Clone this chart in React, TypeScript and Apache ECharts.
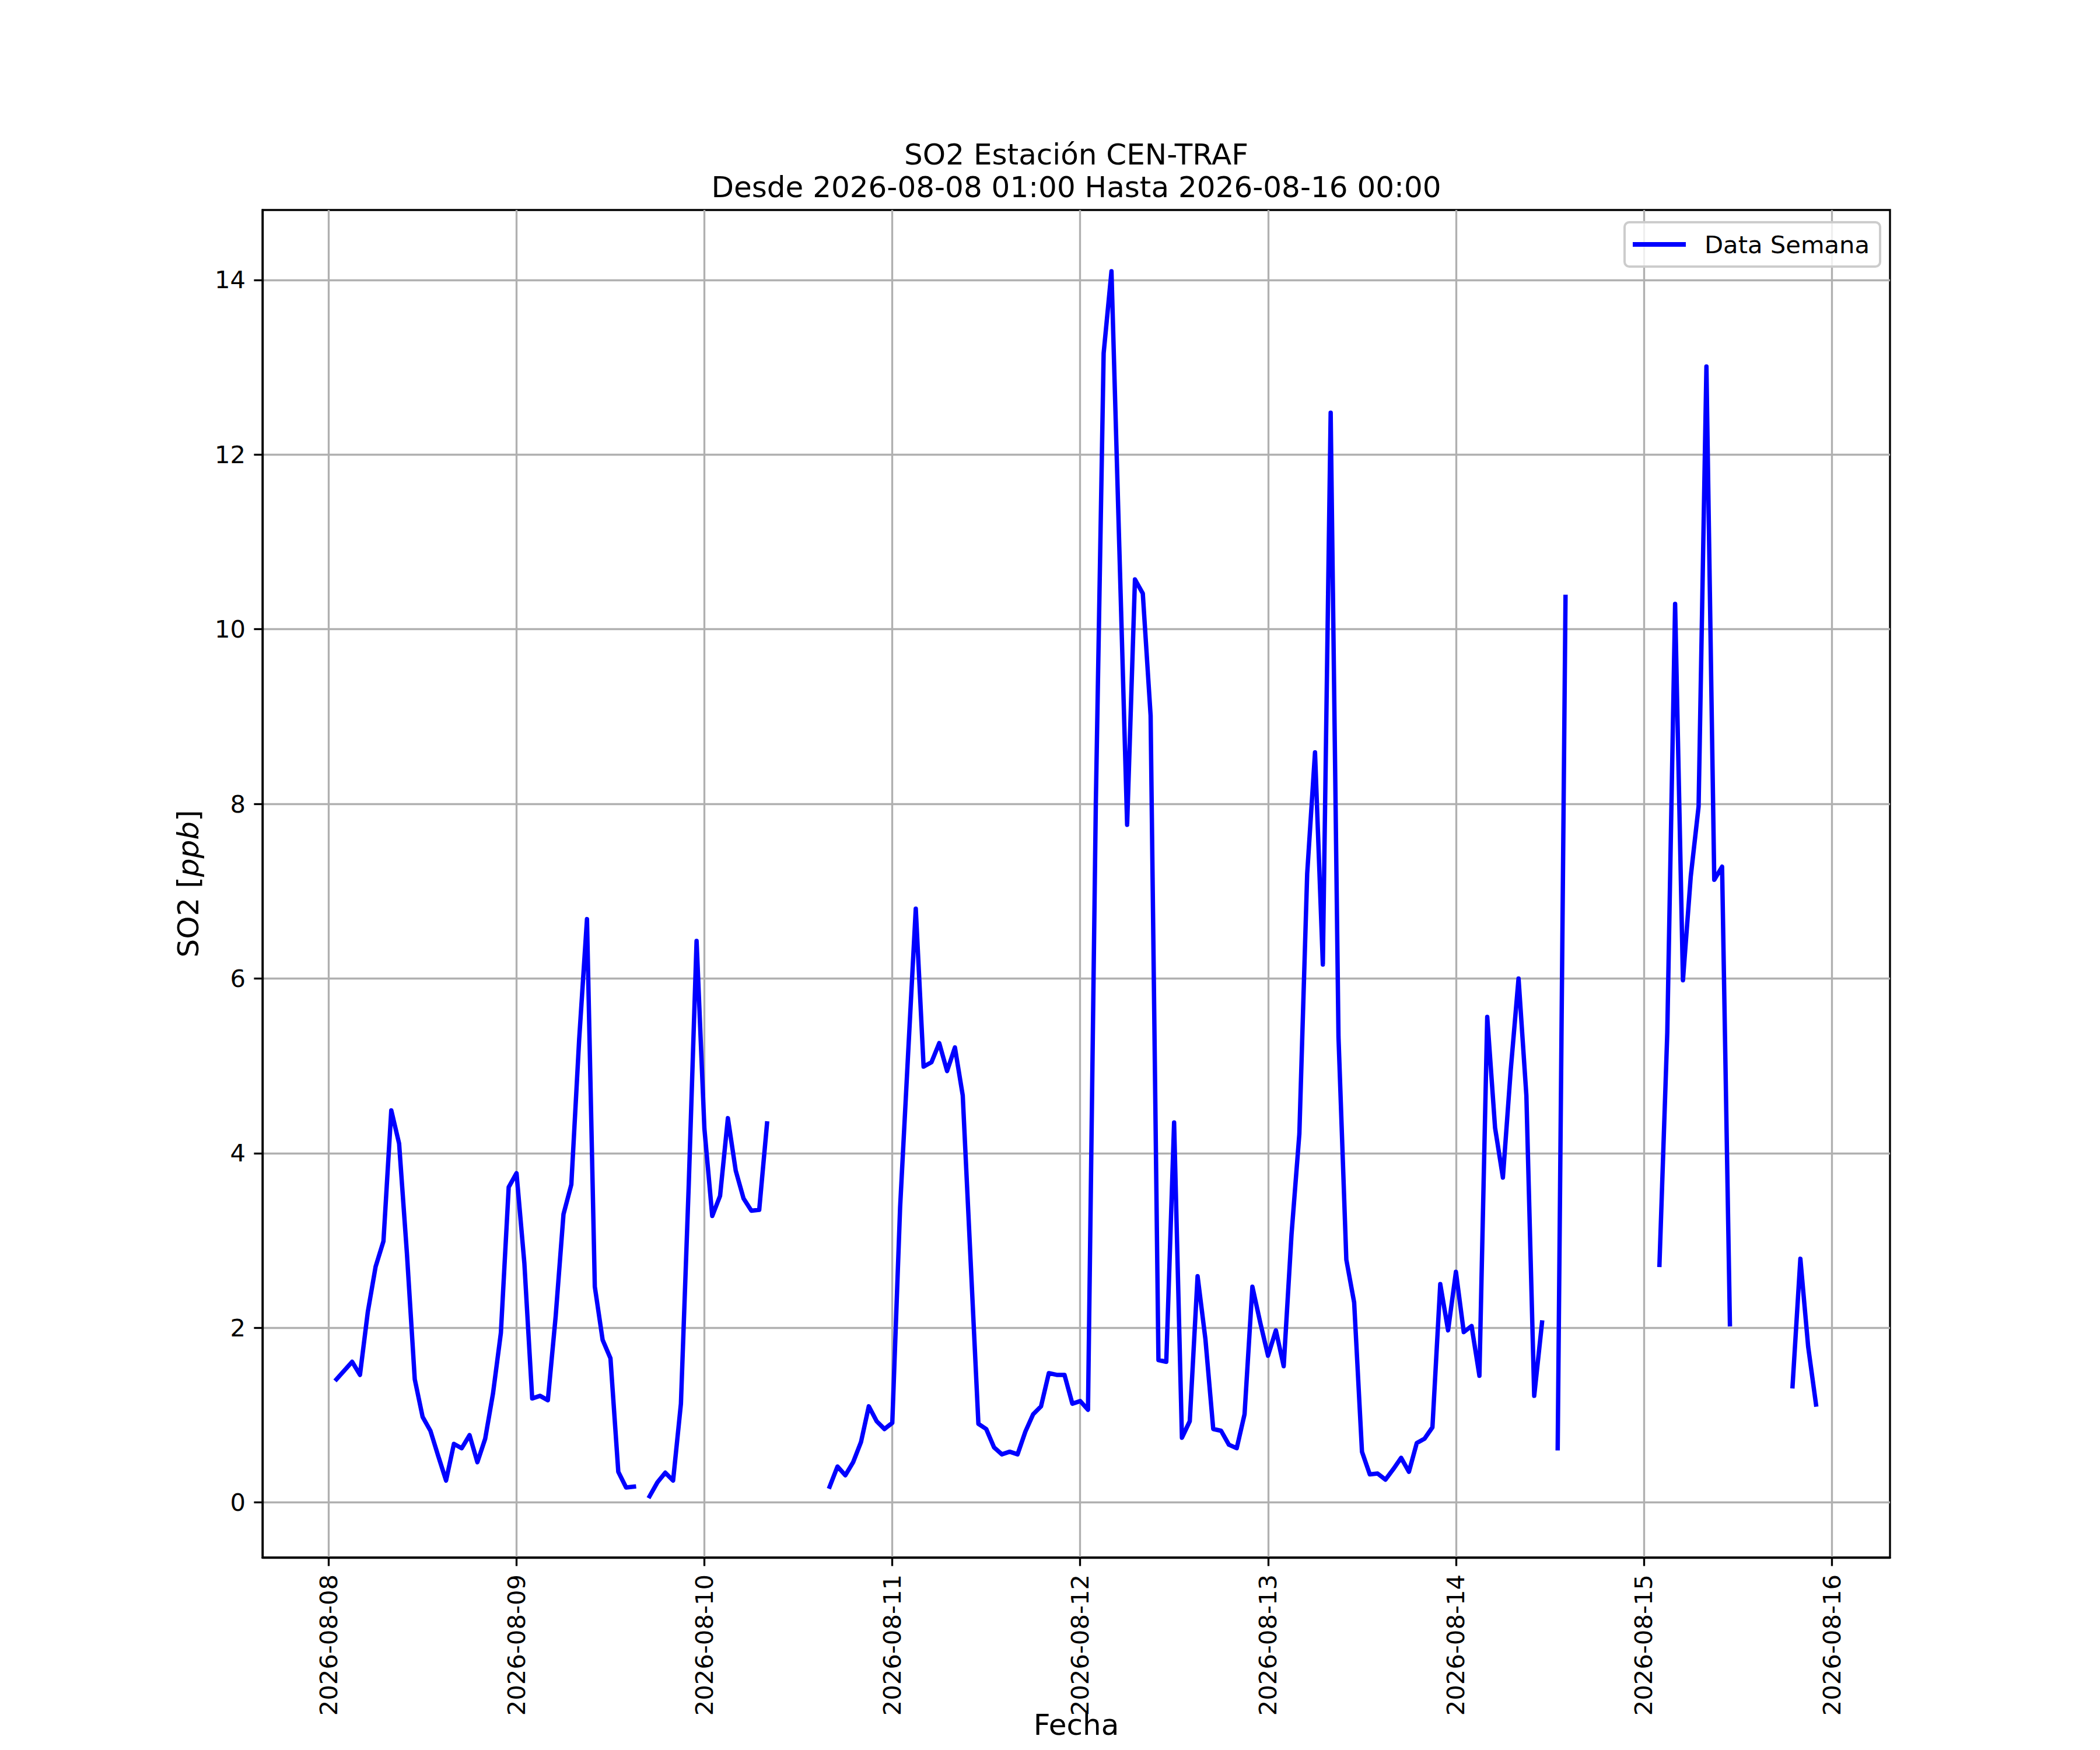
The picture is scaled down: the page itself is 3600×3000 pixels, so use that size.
import React, { useEffect, useRef } from "react";
import * as echarts from "echarts";

// Hours are counted from 2026-08-08 00:00; each day array holds hours 00..23 of that date.
const dayLabels = [
  "2026-08-08", "2026-08-09", "2026-08-10", "2026-08-11", "2026-08-12",
  "2026-08-13", "2026-08-14", "2026-08-15", "2026-08-16",
];
const yTicks = [0, 2, 4, 6, 8, 10, 12, 14];

const d08 = [null, 1.41, 1.51, 1.61, 1.46, 2.18, 2.70, 2.99, 4.49, 4.11, 2.85, 1.41, 0.98, 0.82, 0.53, 0.25, 0.67, 0.62, 0.77, 0.46, 0.73, 1.25, 1.94, 3.61];
const d09 = [3.77, 2.74, 1.19, 1.22, 1.17, 2.13, 3.30, 3.64, 5.30, 6.68, 2.47, 1.86, 1.65, 0.35, 0.17, 0.18, null, 0.07, 0.23, 0.34, 0.25, 1.13, 3.64, 6.43];
const d10 = [4.28, 3.28, 3.51, 4.40, 3.80, 3.48, 3.34, 3.35, 4.34, null, null, null, null, null, null, null, 0.18, 0.41, 0.31, 0.46, 0.69, 1.10, 0.93, 0.84];
const d11 = [0.91, 3.38, 5.10, 6.80, 4.99, 5.04, 5.26, 4.94, 5.21, 4.66, 2.78, 0.90, 0.84, 0.63, 0.55, 0.58, 0.55, 0.81, 1.01, 1.10, 1.48, 1.46, 1.46, 1.13];
const d12 = [1.16, 1.06, 8.00, 13.16, 14.10, 10.94, 7.76, 10.57, 10.41, 9.01, 1.63, 1.61, 4.35, 0.74, 0.93, 2.59, 1.87, 0.84, 0.82, 0.66, 0.62, 1.01, 2.47, 2.06];
const d13 = [1.68, 1.97, 1.56, 3.07, 4.22, 7.20, 8.59, 6.16, 12.48, 5.33, 2.78, 2.29, 0.58, 0.32, 0.33, 0.26, 0.38, 0.51, 0.35, 0.68, 0.73, 0.86, 2.50, 1.97];
const d14 = [2.64, 1.95, 2.02, 1.45, 5.56, 4.29, 3.72, 4.95, 6.00, 4.66, 1.22, 2.06, null, 0.62, 10.37, null, null, null, null, null, null, null, null, null];
const d15 = [null, null, 2.72, 5.38, 10.29, 5.98, 7.17, 7.97, 13.01, 7.13, 7.28, 2.04, null, null, null, null, null, null, null, 1.33, 2.79, 1.78, 1.12, null];

const dayArrays = [d08, d09, d10, d11, d12, d13, d14, d15];

const TITLE_LINE1 = "SO2 Estación CEN-TRAF";
const TITLE_LINE2 = "Desde 2026-08-08 01:00 Hasta 2026-08-16 00:00";
const SERIES_NAME = "Data Semana";
const X_NAME = "Fecha";

const FONT = "DejaVu Sans";

export default function App() {
  const ref = useRef<HTMLDivElement>(null);

  useEffect(() => {
    document.body.style.margin = "0";
    if (!ref.current) return;
    const chart = echarts.init(ref.current, null, { renderer: "svg" });

    const points: any[] = [];
    dayArrays.forEach((arr, d) => {
      arr.forEach((v, i) => {
        points.push([d * 24 + i, v == null ? "-" : v]);
      });
    });
    const valid = points.filter((p) => typeof p[1] === "number");
    const xs = valid.map((p) => p[0]);
    const ys = valid.map((p) => p[1]);
    const x0 = Math.min(...xs), x1 = Math.max(...xs);
    const y0 = Math.min(...ys), y1 = Math.max(...ys);
    const xm = (x1 - x0) * 0.05, ym = (y1 - y0) * 0.05;
    const dayTicks = dayLabels.map((_, i) => i * 24);

    const lw = 3.33;

    chart.setOption({
      animation: false,
      textStyle: { fontFamily: FONT },
      title: {
        text: TITLE_LINE1 + "\n" + TITLE_LINE2,
        left: 1845,
        top: 237,
        textAlign: "center",
        padding: 0,
        textStyle: { fontFamily: FONT, fontSize: 50, fontWeight: "normal", color: "#000", lineHeight: 56 },
      },
      legend: {
        data: [SERIES_NAME],
        left: 2785,
        top: 381,
        orient: "horizontal",
        icon: "rect",
        itemWidth: 91,
        itemHeight: 8,
        padding: [14, 18, 14, 14],
        backgroundColor: "rgba(255,255,255,0.8)",
        borderColor: "#cccccc",
        borderWidth: 4,
        borderRadius: 8,
        itemStyle: { color: "#0000ff", borderWidth: 0 },
        textStyle: { fontFamily: FONT, fontSize: 41.7, color: "#000", lineHeight: 48, padding: [0, 0, 0, 27] },
      },
      grid: {
        left: 450,
        top: 360,
        width: 2790,
        height: 2310,
        show: true,
        borderColor: "#000",
        borderWidth: lw,
        backgroundColor: "transparent",
        containLabel: false,
        outerBoundsMode: "none",
      },
      xAxis: {
        type: "value",
        min: x0 - xm,
        max: x1 + xm,
        name: X_NAME,
        nameLocation: "middle",
        nameGap: 262,
        nameMoveOverlap: false,
        nameTextStyle: { fontFamily: FONT, fontSize: 50, color: "#000", lineHeight: 50 },
        axisLine: { show: true, onZero: false, lineStyle: { color: "#000", width: lw } },
        axisTick: { show: true, inside: false, length: 14.6, customValues: dayTicks, lineStyle: { color: "#000", width: lw } },
        axisLabel: {
          customValues: dayTicks,
          rotate: 90,
          margin: 29,
          fontFamily: FONT,
          fontSize: 41.7,
          color: "#000",
          formatter: (v: number) => dayLabels[Math.round(v / 24)] ?? "",
        },
        splitLine: { show: true, lineStyle: { color: "#b0b0b0", width: lw } },
      },
      yAxis: {
        type: "value",
        min: y0 - ym,
        max: y1 + ym,
        name: "SO2 [{i|ppb}]",
        nameLocation: "middle",
        nameGap: 102,
        nameMoveOverlap: false,
        nameTextStyle: {
          fontFamily: FONT,
          fontSize: 50,
          color: "#000",
          rich: { i: { fontFamily: FONT, fontSize: 50, fontStyle: "italic", color: "#000" } },
        },
        axisLine: { show: true, onZero: false, lineStyle: { color: "#000", width: lw } },
        axisTick: { show: true, inside: false, length: 14.6, customValues: yTicks, lineStyle: { color: "#000", width: lw } },
        axisLabel: {
          customValues: yTicks,
          margin: 29,
          fontFamily: FONT,
          fontSize: 41.7,
          color: "#000",
          formatter: (v: number) => String(Math.round(v)),
        },
        splitLine: { show: true, lineStyle: { color: "#b0b0b0", width: lw } },
      },
      series: [
        {
          type: "line",
          name: SERIES_NAME,
          data: points,
          showSymbol: false,
          symbol: "none",
          connectNulls: false,
          clip: true,
          color: "#0000ff",
          lineStyle: { color: "#0000ff", width: 7.5, join: "round", cap: "square" },
          z: 3,
        },
      ],
    });

    return () => chart.dispose();
  }, []);

  return <div ref={ref} style={{ width: 3600, height: 3000 }} />;
}
